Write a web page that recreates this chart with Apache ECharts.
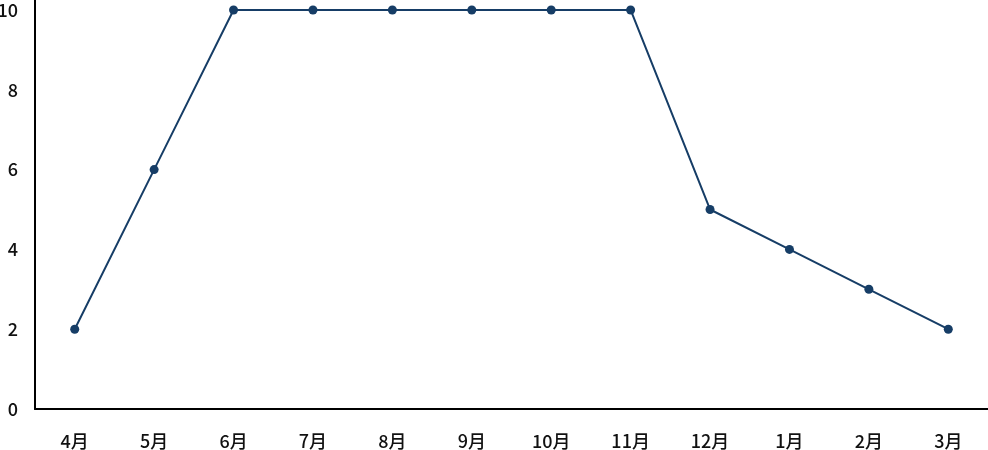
<!DOCTYPE html>
<html><head><meta charset="utf-8">
<script src="https://cdn.jsdelivr.net/npm/echarts@6/dist/echarts.min.js"></script>
<style>html,body{margin:0;padding:0;background:#fff}#c{width:988px;height:450px}</style>
</head><body><div id="c"></div>
<script>
const categories = ['4月','5月','6月','7月','8月','9月','10月','11月','12月','1月','2月','3月'];
const values = [2,6,10,10,10,10,10,10,5,4,3,2];
const yTicks = [0,2,4,6,8,10];

const chart = echarts.init(document.getElementById('c'));
chart.setOption({
  animation: false,
  grid: {left: 35, right: 0, top: 0, bottom: 41, outerBoundsMode: 'none', containLabel: false},
  xAxis: {
    type: 'category', data: categories, boundaryGap: true,
    axisLine: {lineStyle: {color: '#000', width: 2}},
    axisTick: {show: false},
    axisLabel: {color: '#111', fontSize: 18, fontWeight: 500, margin: 23, fontFamily: 'Noto Sans CJK JP'}
  },
  yAxis: {
    type: 'value', min: 0, max: 10.25, interval: 2,
    axisLine: {show: true, lineStyle: {color: '#000', width: 2}},
    axisTick: {show: false},
    splitLine: {show: false},
    axisLabel: {color: '#111', fontSize: 18, fontWeight: 500, margin: 17, fontFamily: 'Noto Sans CJK JP',
      formatter: v => yTicks.indexOf(v) >= 0 ? String(v) : ''}
  },
  series: [{
    type: 'line', data: values,
    symbol: 'circle', symbolSize: 9,
    lineStyle: {color: '#163d66', width: 2},
    itemStyle: {color: '#163d66'}
  }]
});
</script></body></html>
